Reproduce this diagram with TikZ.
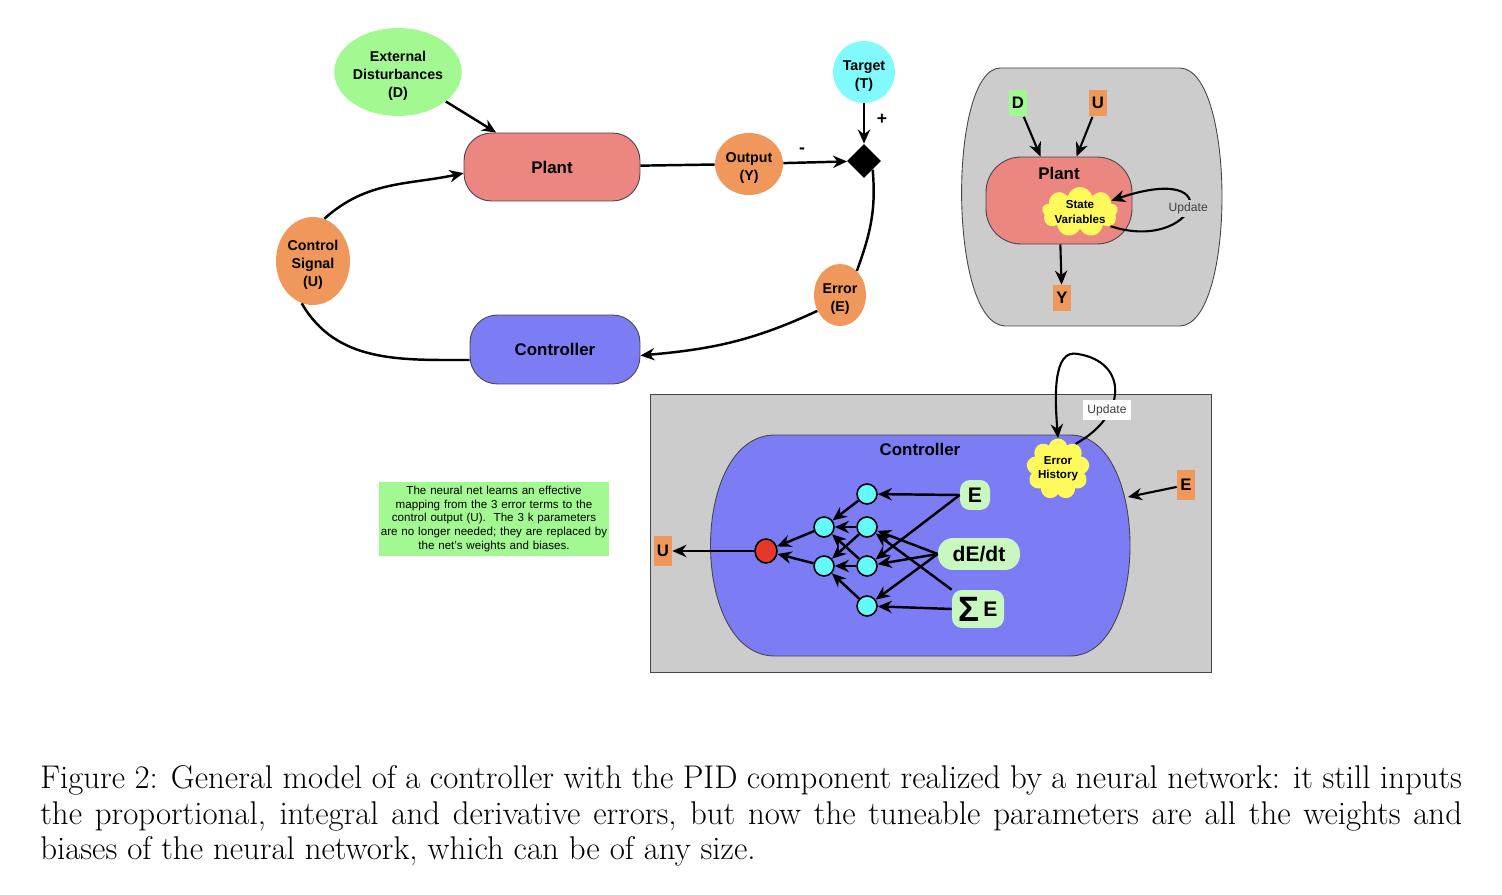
\documentclass[tikz,border=0pt]{standalone}
\usepackage{fontspec}
\newfontfamily\diagfont{Liberation Sans}
\usepackage{tikz}
\usetikzlibrary{shapes.geometric,shapes.symbols,arrows.meta,positioning}
\definecolor{distgreen}{RGB}{163,249,145}
\definecolor{tgtcyan}{RGB}{128,250,252}
\definecolor{plantred}{RGB}{236,134,129}
\definecolor{sigorange}{RGB}{240,152,92}
\definecolor{ctrlblue}{RGB}{124,124,244}
\definecolor{panelgray}{RGB}{204,204,204}
\definecolor{cloudyellow}{RGB}{255,250,92}
\definecolor{inputgreen}{RGB}{200,248,192}
\definecolor{neuroncyan}{RGB}{100,250,250}
\definecolor{outred}{RGB}{230,56,40}
\definecolor{edgegray}{RGB}{70,70,70}
\newcommand\lift{\rule{0pt}{10.5pt}}
\tikzset{
  >={Stealth[length=8pt,width=7pt]},
  blob/.style={ellipse, inner sep=0pt, align=center,
    font=\diagfont\bfseries\fontsize{8.1}{10.2}\selectfont},
  pill/.style={rectangle, rounded corners=0.55cm, draw=edgegray, line width=0.5pt,
    font=\diagfont\bfseries\fontsize{9.6}{11}\selectfont},
  tag/.style={rectangle, inner sep=0pt, minimum width=0.36cm, minimum height=0.6cm,
    font=\diagfont\bfseries\fontsize{9.5}{11}\selectfont},
  puff/.style={cloud, cloud puffs=9, cloud ignores aspect, fill=cloudyellow, inner sep=0pt},
  puffnote/.style={align=center, font=\diagfont\bfseries\fontsize{6.6}{8.2}\selectfont},
  neuron/.style={circle, draw=black, line width=0.9pt, fill=neuroncyan,
    minimum size=0.4cm, inner sep=0pt},
  inbox/.style={rectangle, rounded corners=0.2cm, fill=inputgreen, inner sep=0pt,
    font=\diagfont\bfseries\fontsize{12}{14}\selectfont},
  sign/.style={font=\diagfont\bfseries\fontsize{10}{12}\selectfont},
  loopnote/.style={inner sep=2.3pt, text=black!75,
    font=\diagfont\fontsize{6.9}{8}\selectfont},
  flow/.style={line width=1.4pt},
  thinflow/.style={line width=1.2pt},
}
\begin{document}
\begin{tikzpicture}[x=0.02cm,y=-0.02cm]
\useasboundingbox (0,0) rectangle (1502,895);
% feedback loop
\node[blob, fill=distgreen, minimum width=2.48cm, minimum height=1.76cm] (dist) at (398,72)
  {\lift External\\Disturbances\\(D)};
\node[blob, fill=tgtcyan, minimum width=1.24cm, minimum height=1.24cm] (target) at (864,72)
  {\lift Target\\(T)};
\node[pill, fill=plantred, minimum width=3.52cm, minimum height=1.36cm] (plant) at (552,167) {Plant};
\node[blob, fill=sigorange, minimum width=1.36cm, minimum height=1.24cm] (output) at (749,164)
  {\lift Output\\(Y)};
\node[diamond, fill=black, inner sep=0pt, minimum width=0.68cm, minimum height=0.68cm] (sum) at (864,161) {};
\node[blob, fill=sigorange, minimum width=1.48cm, minimum height=1.76cm] (ctrlsig) at (313,261)
  {\lift Control\\Signal\\(U)};
\node[blob, fill=sigorange, minimum width=1.04cm, minimum height=1.24cm] (err) at (840,295)
  {\lift Error\\(E)};
\node[pill, fill=ctrlblue, minimum width=3.4cm, minimum height=1.38cm] (ctrl) at (555,349.5) {Controller};
\node[sign] (minus) at (802,151) {-};
\node[sign] (plus) at (882,119) {+};
\draw[flow,->] (dist) -- (plant);
\draw[flow,->] (target) -- (sum);
\draw[flow] (plant) -- (output);
\draw[flow,->] (output) -- (sum);
\draw[flow] (sum.south east) to[out=-85,in=70] (err.55);
\draw[flow,->] (err.215) to[out=205,in=5] (ctrl.-4);
\draw[flow] (ctrl.187) to[out=180,in=-60] (ctrlsig.255);
\draw[flow,->] (ctrlsig.75) to[out=42,in=192] (plant.184);
% plant panel
\draw[fill=panelgray, draw=edgegray, line width=0.5pt]
  (1000,68) -- (1180,68) .. controls (1236,70) and (1236,324) .. (1180,326)
  -- (1005,326) .. controls (948,324) and (948,70) .. (1000,68);
\node[pill, fill=plantred, rounded corners=0.7cm, minimum width=2.92cm, minimum height=1.74cm,
  label={[anchor=north, yshift=-0.1cm, font=\diagfont\bfseries\fontsize{9.6}{11}\selectfont]north:Plant}]
  (pplant) at (1059,200.5) {};
\node[puff, minimum width=1.52cm, minimum height=1.0cm,
  label={[puffnote]center:State\\Variables}] (state) at (1080,212) {};
\node[tag, fill=distgreen, minimum height=0.54cm] (pD) at (1018,103) {D};
\node[tag, fill=sigorange, minimum height=0.54cm] (pU) at (1098,103) {U};
\node[tag, fill=sigorange, minimum height=0.52cm] (pY) at (1062,298) {Y};
\draw[thinflow,->] (pD) -- (pplant);
\draw[thinflow,->] (pU) -- (pplant);
\draw[thinflow,->] (pplant) -- (pY);
\draw[thinflow,->] (state.-25) .. controls (1196,254) and (1232,160) .. (state.20)
  node[pos=0.5, loopnote, inner sep=1.5pt, fill=panelgray] (pupd) {Update};
% controller panel
\draw[fill=panelgray, draw=edgegray, line width=0.5pt] (650,394) rectangle (1211,672);
\draw[fill=ctrlblue, draw=edgegray, line width=0.5pt]
  (775,435) -- (1070,435) .. controls (1150,435) and (1150,656) .. (1070,656)
  -- (775,656) .. controls (689,656) and (689,435) .. (775,435);
\coordinate (cin) at (1128,497);
\node[font=\diagfont\bfseries\fontsize{9.6}{11}\selectfont] (clbl) at (920,449) {Controller};
\node[puff, minimum width=1.26cm, minimum height=1.22cm,
  label={[puffnote]center:Error\\History}] (ehist) at (1058,469) {};
\coordinate (looptop) at (1078,354);
\draw[thinflow] (ehist.55) .. controls (1128,415) and (1128,362) .. (looptop);
\draw[thinflow,->] (looptop) .. controls (1052,348) and (1055,400) .. (ehist.north);
\node[loopnote, fill=white] (cupd) at (1107,410) {Update};
\node[tag, fill=sigorange] (cE) at (1186,485) {E};
\node[tag, fill=sigorange] (cU) at (663,551) {U};
\node[ellipse, draw=black, line width=0.9pt, fill=outred, minimum width=0.44cm,
  minimum height=0.48cm, inner sep=0pt] (out) at (766,551) {};
\node[neuron] (h1a) at (824,527) {};
\node[neuron] (h1b) at (824,566) {};
\node[neuron] (h2a) at (867,494) {};
\node[neuron] (h2b) at (867,527) {};
\node[neuron] (h2c) at (867,566) {};
\node[neuron] (h2d) at (867,606) {};
\node[inbox, minimum width=0.6cm, minimum height=0.6cm] (inE) at (975,495) {E};
\node[inbox, rounded corners=0.3cm, minimum width=1.64cm, minimum height=0.64cm] (inD) at (979,554) {dE/dt};
\node[inbox, minimum width=1.04cm, minimum height=0.76cm] (inS) at (978,609)
  {\raisebox{-0.1cm}{\fontsize{20}{20}\selectfont Σ}\,E};
\draw[thinflow,->] (cE) -- (cin);
\draw[flow,->] (out) -- (cU);
\foreach \a/\b in {inE.west/h2a, inE.west/h2c, inD.west/h2b, inD.west/h2c, inD.west/h2d,
  inS.north west/h2b, inS.west/h2d, h2a/h1a, h2b/h1a, h2b/h1b, h2c/h1a, h2c/h1b,
  h2d/h1b, h1a/out, h1b/out}
  \draw[flow,->] (\a) -- (\b);
% note and caption
\node[fill=distgreen, text width=4.6cm, minimum height=1.48cm, inner sep=0pt, align=center,
  font=\diagfont\fontsize{6.6}{7.7}\selectfont] (note) at (494,519)
  {The neural net learns an effective\\mapping from the 3 error terms to the\\
   control output (U).\ \ The 3 k parameters\\are no longer needed; they are replaced by\\
   the net’s weights and biases.};
\node[anchor=north west, inner sep=0pt, text width=28.44cm, align=justify,
  font=\fontsize{18.7}{20.3}\selectfont] (caption) at (40,765)
  {Figure 2: General model of a controller with the PID component realized by a neural network: it still inputs\linebreak
   the proportional, integral and derivative errors, but now the tuneable parameters are all the weights and\linebreak
   biases of the neural network, which can be of any size.};
\end{tikzpicture}
\end{document}
